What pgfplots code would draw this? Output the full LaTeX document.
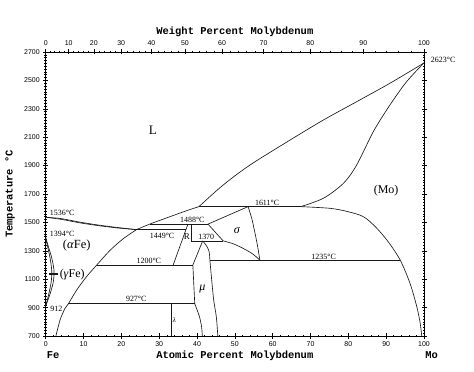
\documentclass[border=0pt]{standalone}
\usepackage{fontspec}
\setmainfont{Liberation Serif}
\setsansfont{Liberation Sans}
\setmonofont{Liberation Mono}
\usepackage{pgfplots}
\pgfplotsset{compat=1.18}
\newcommand\ann{\fontsize{8}{9}\selectfont\rmfamily}
\newcommand\phlab{\fontsize{12}{14}\selectfont\rmfamily}
\newcommand\ttl{\fontsize{10.5}{12}\selectfont\ttfamily\bfseries}
\begin{document}
\begin{tikzpicture}
\pgfplotsset{
  mybase/.style={
    scale only axis, width=378.3bp, height=284bp,
    xmin=0, xmax=100, ymin=700, ymax=2700,
    tick align=center, major tick length=5bp, minor tick length=2.5bp,
    every tick/.style={black, line width=0.5bp},
    axis line style={line width=0.7bp},
    ticklabel style={font=\sffamily\fontsize{7}{8}\selectfont},
    /pgf/number format/assume math mode=true,
    /pgf/number format/1000 sep={},
    clip=false,
  },
  pl/.style={black!90, line width=0.65bp, mark=none, solid},
}
\begin{axis}[mybase, name=main,
  xtick={0,10,...,100}, minor x tick num=4,
  ytick={700,900,...,2700}, minor y tick num=9,
  xtick pos=left, ytick pos=both, yticklabel pos=left,
]
% Fe liquidus / solidus
\addplot[pl, smooth] coordinates {(0,1536)(4,1527)(9,1502)(14,1481)(19,1464)(24,1449)};
\addplot[pl, smooth] coordinates {(0,1536)(4,1522)(9,1497)(14,1477)(19,1461)(24,1449)};
% (alpha Fe) solvus
\addplot[pl, smooth] coordinates {(2.7,700)(3.8,813)(5.1,895)(6.0,927)(8.2,1024)(10.8,1118)(13.5,1200)(17.0,1303)(20.5,1385)(24,1449)};
% liquidus L/(L+R), L/(L+sigma)
\addplot[pl, smooth] coordinates {(24,1449)(27.5,1488)(32.3,1535)(37.2,1582)(40.5,1611)};
% upper liquidus
\addplot[pl, smooth] coordinates {(40.5,1611)(46.9,1763)(54.0,1904)(64.6,2080)(73.4,2221)(82.2,2350)(91.0,2480)(100,2623)};
% (Mo) solidus
\addplot[pl, smooth] coordinates {(67.4,1611)(73.4,1670)(78.7,1775)(82.2,1904)(86.6,2139)(91.0,2327)(95.4,2491)(100,2623)};
% (Mo) solvus
\addplot[pl, smooth] coordinates {(67.4,1611)(75.2,1599)(80,1575)(84.0,1540)(87.3,1465)(90.5,1365)(93.7,1235)(96.3,1071)(98.1,906)(99.0,789)(99.4,700)};
% horizontals
\addplot[pl] coordinates {(40.5,1611)(67.4,1611)};
\addplot[pl] coordinates {(27.5,1488)(42.9,1488)};
\addplot[pl] coordinates {(24,1449)(37.07,1449)};
\addplot[pl] coordinates {(38.5,1370)(46.9,1370)};
\addplot[pl] coordinates {(43.4,1235)(93.7,1235)};
\addplot[pl] coordinates {(13.5,1200)(38.9,1200)};
\addplot[pl] coordinates {(6.0,927)(39.4,927)};
% sigma
\addplot[pl] coordinates {(42.9,1488)(53.5,1611)};
\addplot[pl, smooth] coordinates {(53.5,1611)(54.5,1525)(55.2,1440)(56.0,1335)(56.6,1235)};
\addplot[pl] coordinates {(42.9,1488)(46.9,1370)};
\addplot[pl, smooth] coordinates {(46.9,1370)(49.5,1350)(52.1,1318)(54.6,1280)(56.6,1235)};
% R
\addplot[pl] coordinates {(37.6,1488)(33.7,1200)};
\addplot[pl] coordinates {(38.5,1488)(38.5,1370)};
% mu
\addplot[pl] coordinates {(41.5,1370)(38.9,1200)};
\addplot[pl] coordinates {(38.9,1200)(39.4,927)};
\addplot[pl, smooth] coordinates {(39.4,927)(40.6,840)(41.2,765)(41.4,700)};
\addplot[pl, smooth] coordinates {(41.5,1370)(42.5,1335)(43.2,1295)(43.4,1235)(43.8,1118)(44.4,954)(45.1,836)(45.5,700)};
% lambda
\addplot[pl] coordinates {(33.3,927)(33.3,700)};
% gamma loop
\addplot[pl, smooth] coordinates {(0,1394)(0.7,1330)(1.6,1250)(2.2,1160)(2.0,1080)(1.2,1000)(0.4,940)(0,912)};
\addplot[pl, smooth] coordinates {(0,1394)(0.5,1330)(1.15,1250)(1.6,1160)(1.45,1080)(0.85,1000)(0.3,940)(0,912)};
\addplot[pl, line width=1.4bp] coordinates {(0.9,1137)(3.3,1137)};
% annotations
\node[anchor=base west, font=\ann] at (axis cs:0.2,1550) {1536°C};
\node[anchor=base west, font=\ann] at (axis cs:0.2,1400) {1394°C};
\node[anchor=base west, font=\ann] at (axis cs:0.3,871) {912};
\node[anchor=base west, font=\ann] at (axis cs:20.3,943) {927°C};
\node[anchor=base west, font=\ann] at (axis cs:23.1,1211) {1200°C};
\node[anchor=base west, font=\ann] at (axis cs:26.6,1390) {1449°C};
\node[anchor=base west, font=\ann] at (axis cs:34.6,1499) {1488°C};
\node[anchor=base west, font=\ann] at (axis cs:39.4,1380) {1370};
\node[anchor=base west, font=\ann] at (axis cs:54.4,1619) {1611°C};
\node[anchor=base west, font=\ann] at (axis cs:69.3,1242) {1235°C};
\node[anchor=base west, font=\ann] at (axis cs:100.9,2625) {2623°C};
\node[anchor=base, inner sep=0pt, font=\fontsize{9}{10}\selectfont\rmfamily] at (axis cs:37.3,1382) {R};
\node[font=\fontsize{12}{14}\selectfont\itshape] at (axis cs:50.5,1440) {σ};
\node[font=\fontsize{12}{14}\selectfont\itshape] at (axis cs:41.4,1031) {μ};
\node[font=\fontsize{7}{8}\selectfont\itshape] at (axis cs:34.0,813) {λ};
\node[font=\fontsize{13}{15}\selectfont\rmfamily] at (axis cs:28.3,2151) {L};
\node[font=\phlab] at (axis cs:90.0,1721) {(Mo)};
\node[anchor=base, font=\fontsize{12.5}{14}\selectfont\rmfamily] at (axis cs:8.2,1313) {(\textit{α}Fe)};
\node[anchor=base west, inner sep=1pt, font=\phlab] at (axis cs:3.4,1115) {(\textit{γ}Fe)};
% axis titles
\node[anchor=base, yshift=17bp, font=\ttl] at (rel axis cs:0.5,1) {Weight Percent Molybdenum};
\node[anchor=base, yshift=-22.3bp, font=\ttl] at (rel axis cs:0.5,0) {Atomic Percent Molybdenum};
\node[anchor=base west, inner sep=0pt, yshift=-22.3bp, font=\ttl] at (axis cs:0.25,700) {Fe};
\node[anchor=base west, inner sep=0pt, yshift=-22.3bp, font=\ttl] at (axis cs:100.3,700) {Mo};
\node[anchor=base, rotate=90, font=\ttl] at ([xshift=-33bp]rel axis cs:0,0.5) {Temperature °C};
\end{axis}
\begin{axis}[mybase, hide y axis,
  xtick pos=right, xticklabel pos=right,
  xtick={0,6.074,12.702,19.964,27.954,36.790,46.610,57.592,69.953,83.970,100},
  xticklabels={0,10,20,30,40,50,60,70,80,90,100},
  minor xtick={1.174,2.368,3.582,4.817,7.353,8.655,9.980,11.329,14.101,15.526,16.977,18.457,21.500,23.067,24.664,26.293,29.650,31.380,33.146,34.949,38.670,40.591,42.553,44.560,48.708,50.853,53.047,55.293,59.946,62.357,64.827,67.358,72.613,75.343,78.143,81.018,87.001,90.117,93.319,96.612},
]
\addplot[draw=none] coordinates {(0,700)};
\end{axis}
\pgfresetboundingbox
\path ([shift={(-45.7bp,-36bp)}]main.south west) rectangle ([shift={(50bp,52bp)}]main.north east);
\end{tikzpicture}
\end{document}
